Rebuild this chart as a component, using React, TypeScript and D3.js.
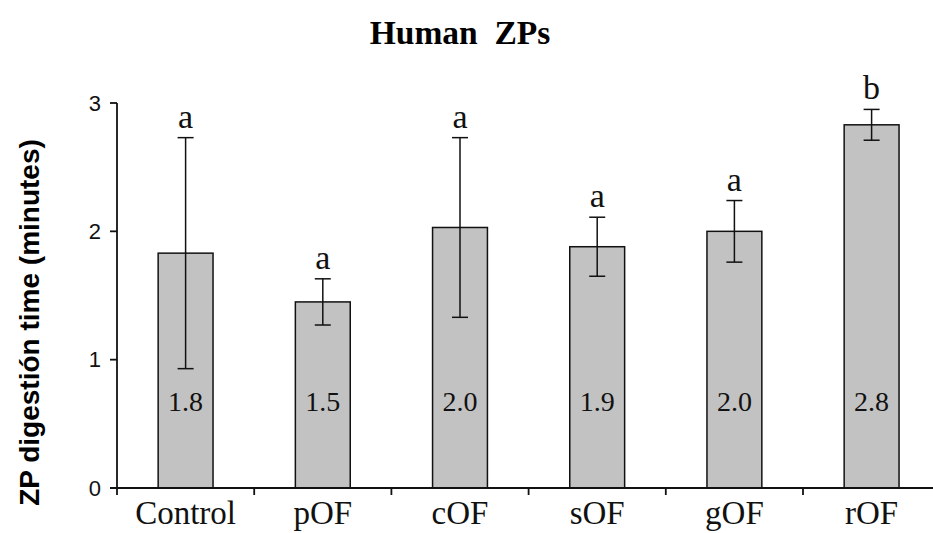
import React from "react";
import * as d3 from "d3";

const categories = ["Control", "pOF", "cOF", "sOF", "gOF", "rOF"];
const means = [1.83, 1.45, 2.03, 1.88, 2.0, 2.83];
const errors = [0.9, 0.18, 0.7, 0.23, 0.24, 0.12];
const valueLabels = ["1.8", "1.5", "2.0", "1.9", "2.0", "2.8"];
const sigLetters = ["a", "a", "a", "a", "a", "b"];
const yTicks = [0, 1, 2, 3];

const W = 933;
const H = 533;
const left = 117;
const bottom = 488;
const top = 103;
const step = 137.2;

export default function App() {
  const x = d3
    .scaleBand<string>()
    .domain(categories)
    .range([left, left + step * categories.length])
    .paddingInner(0.6)
    .paddingOuter(0.3);
  const y = d3.scaleLinear().domain([0, 3]).range([bottom, top]);
  const bw = x.bandwidth();
  const capW = 16;
  const serif = "'Liberation Serif', 'Times New Roman', serif";
  const sans = "'Liberation Sans', Arial, sans-serif";

  return (
    <svg
      width={W}
      height={H}
      style={{ position: "absolute", left: 0, top: 0, background: "#fff" }}
    >
      <text
        x={460}
        y={44}
        textAnchor="middle"
        fontFamily={serif}
        fontWeight="bold"
        fontSize={33.5}
        style={{ whiteSpace: "pre" }}
      >
        {"Human  ZPs"}
      </text>
      <text
        transform={`translate(29,${(140 + 505) / 2}) rotate(-90)`}
        textAnchor="middle"
        dominantBaseline="central"
        fontFamily={sans}
        fontWeight="bold"
        fontSize={28}
      >
        ZP digestión time (minutes)
      </text>
      {categories.map((c, i) => {
        const x0 = x(c)!;
        const cx = x0 + bw / 2;
        const yt = y(means[i] + errors[i]);
        const yb = y(means[i] - errors[i]);
        return (
          <g key={c}>
            <rect
              x={x0}
              y={y(means[i])}
              width={bw}
              height={bottom - y(means[i])}
              fill="#c2c2c2"
              stroke="#111"
              strokeWidth={1.5}
            />
            <line x1={cx} x2={cx} y1={yt} y2={yb} stroke="#111" strokeWidth={1.5} />
            <line x1={cx - capW / 2} x2={cx + capW / 2} y1={yt} y2={yt} stroke="#111" strokeWidth={1.5} />
            <line x1={cx - capW / 2} x2={cx + capW / 2} y1={yb} y2={yb} stroke="#111" strokeWidth={1.5} />
            <text
              x={cx}
              y={yt - 10}
              textAnchor="middle"
              fontFamily={serif}
              fontSize={34}
              fill="#111"
            >
              {sigLetters[i]}
            </text>
            <text
              x={cx}
              y={411}
              textAnchor="middle"
              fontFamily={serif}
              fontSize={28}
              fill="#111"
            >
              {valueLabels[i]}
            </text>
            <text
              x={cx}
              y={524}
              textAnchor="middle"
              fontFamily={serif}
              fontSize={33}
              fill="#111"
            >
              {c}
            </text>
          </g>
        );
      })}
      <line x1={left} x2={left} y1={top} y2={bottom} stroke="#111" strokeWidth={1.8} />
      {yTicks.map((t) => (
        <g key={t}>
          <line x1={left - 7} x2={left} y1={y(t)} y2={y(t)} stroke="#111" strokeWidth={1.8} />
          <text
            x={101}
            y={y(t)}
            textAnchor="end"
            dominantBaseline="central"
            fontFamily={sans}
            fontSize={22}
            fill="#111"
          >
            {t}
          </text>
        </g>
      ))}
      <line x1={left - 7} x2={left + step * categories.length} y1={bottom} y2={bottom} stroke="#111" strokeWidth={1.8} />
      {d3.range(categories.length + 1).map((k) => (
        <line
          key={k}
          x1={left + k * step}
          x2={left + k * step}
          y1={bottom}
          y2={bottom + 7}
          stroke="#111"
          strokeWidth={1.8}
        />
      ))}
    </svg>
  );
}
